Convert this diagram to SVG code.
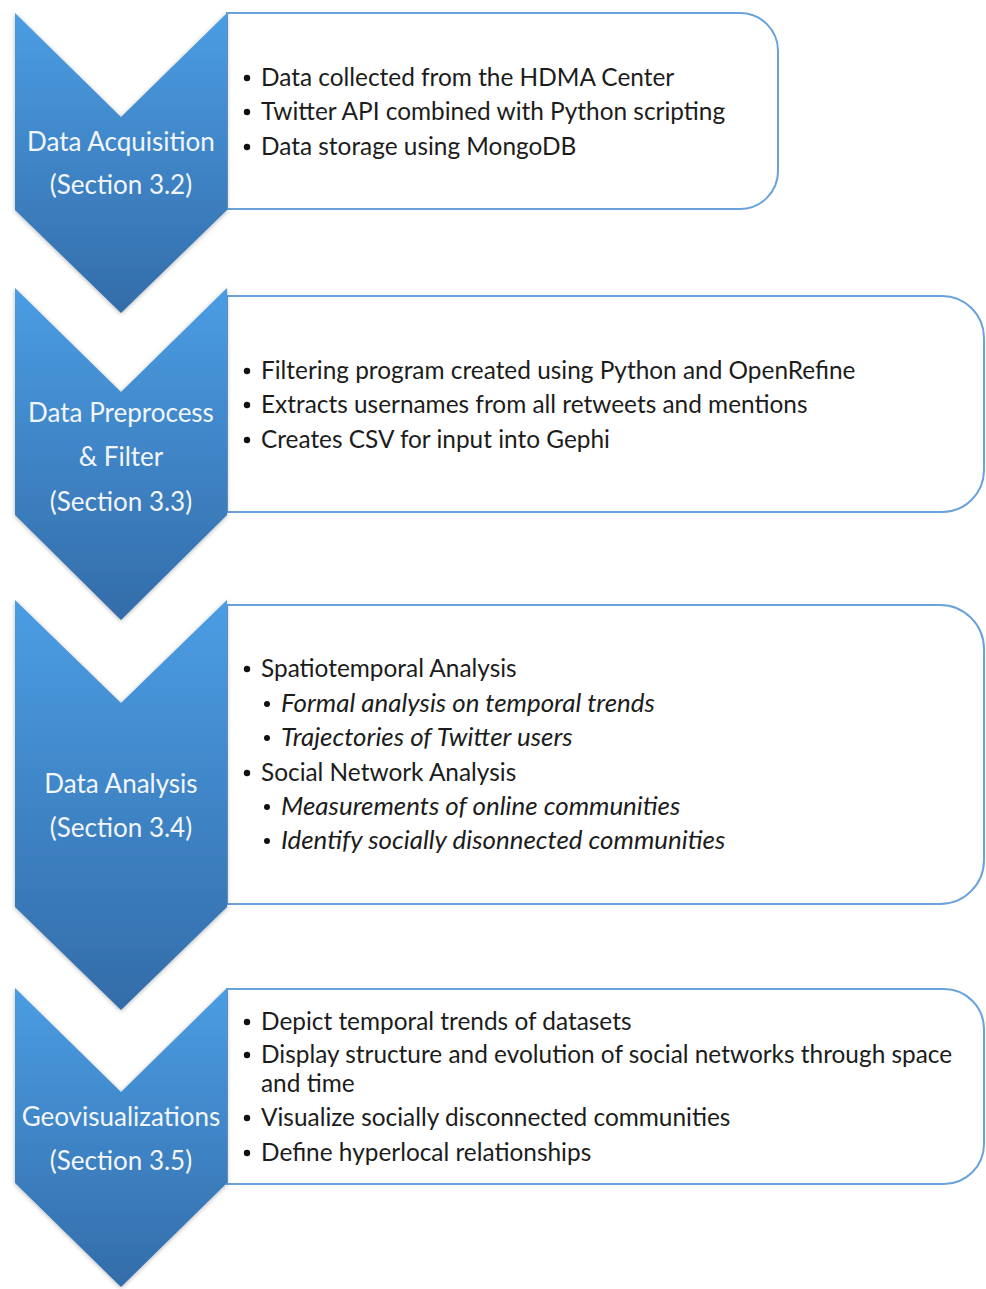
<svg xmlns="http://www.w3.org/2000/svg" width="986" height="1289" viewBox="0 0 986 1289">
  <defs>
    <linearGradient id="chevFill" x1="0" y1="0" x2="0" y2="1">
      <stop offset="0" stop-color="#4b9de3"/>
      <stop offset="1" stop-color="#336ca9"/>
    </linearGradient>
    <filter id="softShadow" x="-10%" y="-5%" width="120%" height="115%">
      <feDropShadow dx="0" dy="1" stdDeviation="2" flood-color="#000" flood-opacity="0.3"/>
    </filter>
    <style>
      .chev { fill: url(#chevFill); filter: url(#softShadow); }
      .box { fill: #ffffff; stroke: #6aa2dc; stroke-width: 2; }
      .label { font-family: Lato, "Liberation Sans", sans-serif; font-size: 26px; fill: #f2f6fb; text-anchor: middle; }
      .item { font-family: Lato, "Liberation Sans", sans-serif; font-size: 24.4px; fill: #1c1c1c; }
      .sub { font-style: italic; font-size: 25.9px; }
      .dot { fill: #111111; }
    </style>
  </defs>

  <!-- Stage 1: acquisition -->
  <g id="stage-acquisition">
    <path class="box" d="M227,13 H740 A38,38 0 0 1 778,51 V171 A38,38 0 0 1 740,209 H227 Z"/>
    <path class="chev" d="M15,13 L121,117 L227,13 V210 L121,313 L15,210 Z"/>
    <text class="label" x="121" y="151">Data Acquisition</text>
    <text class="label" x="121" y="194">(Section 3.2)</text>
    <g class="item">
      <circle class="dot" cx="247" cy="78" r="3.2"/>
      <text x="261" y="86">Data collected from the HDMA Center</text>
      <circle class="dot" cx="247" cy="112" r="3.2"/>
      <text x="261" y="120">Twitter API combined with Python scripting</text>
      <circle class="dot" cx="247" cy="147" r="3.2"/>
      <text x="261" y="155">Data storage using MongoDB</text>
    </g>
  </g>

  <!-- Stage 2: preprocess and filter -->
  <g id="stage-preprocess">
    <path class="box" d="M227,296 H942 A42,42 0 0 1 984,338 V470 A42,42 0 0 1 942,512 H227 Z"/>
    <path class="chev" d="M15,288 L121,392 L227,288 V515 L121,620 L15,515 Z"/>
    <text class="label" x="121" y="422">Data Preprocess</text>
    <text class="label" x="121" y="466">&amp; Filter</text>
    <text class="label" x="121" y="511">(Section 3.3)</text>
    <g class="item">
      <circle class="dot" cx="247" cy="371" r="3.2"/>
      <text x="261" y="379">Filtering program created using Python and OpenRefine</text>
      <circle class="dot" cx="247" cy="405" r="3.2"/>
      <text x="261" y="413">Extracts usernames from all retweets and mentions</text>
      <circle class="dot" cx="247" cy="440" r="3.2"/>
      <text x="261" y="448">Creates CSV for input into Gephi</text>
    </g>
  </g>

  <!-- Stage 3: analysis -->
  <g id="stage-analysis">
    <path class="box" d="M227,605 H940 A44,44 0 0 1 984,649 V860 A44,44 0 0 1 940,904 H227 Z"/>
    <path class="chev" d="M15,600 L121,703 L227,600 V907 L121,1010 L15,907 Z"/>
    <text class="label" x="121" y="793">Data Analysis</text>
    <text class="label" x="121" y="837">(Section 3.4)</text>
    <g class="item">
      <circle class="dot" cx="247" cy="669" r="3.2"/>
      <text x="261" y="677">Spatiotemporal Analysis</text>
      <circle class="dot" cx="267" cy="704" r="3"/>
      <text class="sub" x="281" y="712">Formal analysis on temporal trends</text>
      <circle class="dot" cx="267" cy="738" r="3"/>
      <text class="sub" x="281" y="746">Trajectories of Twitter users</text>
      <circle class="dot" cx="247" cy="773" r="3.2"/>
      <text x="261" y="781">Social Network Analysis</text>
      <circle class="dot" cx="267" cy="807" r="3"/>
      <text class="sub" x="281" y="815">Measurements of online communities</text>
      <circle class="dot" cx="267" cy="841" r="3"/>
      <text class="sub" x="281" y="849">Identify socially disonnected communities</text>
    </g>
  </g>

  <!-- Stage 4: geovisualizations -->
  <g id="stage-geovis">
    <path class="box" d="M227,989 H944 A40,40 0 0 1 984,1029 V1144 A40,40 0 0 1 944,1184 H227 Z"/>
    <path class="chev" d="M15,988 L121,1092 L227,988 V1183 L121,1287 L15,1183 Z"/>
    <text class="label" x="121" y="1126">Geovisualizations</text>
    <text class="label" x="121" y="1170">(Section 3.5)</text>
    <g class="item">
      <circle class="dot" cx="247" cy="1022" r="3.2"/>
      <text x="261" y="1030">Depict temporal trends of datasets</text>
      <circle class="dot" cx="247" cy="1055" r="3.2"/>
      <text x="261" y="1063">Display structure and evolution of social networks through space</text>
      <text x="261" y="1092">and time</text>
      <circle class="dot" cx="247" cy="1118" r="3.2"/>
      <text x="261" y="1126">Visualize socially disconnected communities</text>
      <circle class="dot" cx="247" cy="1153" r="3.2"/>
      <text x="261" y="1161">Define hyperlocal relationships</text>
    </g>
  </g>
</svg>
